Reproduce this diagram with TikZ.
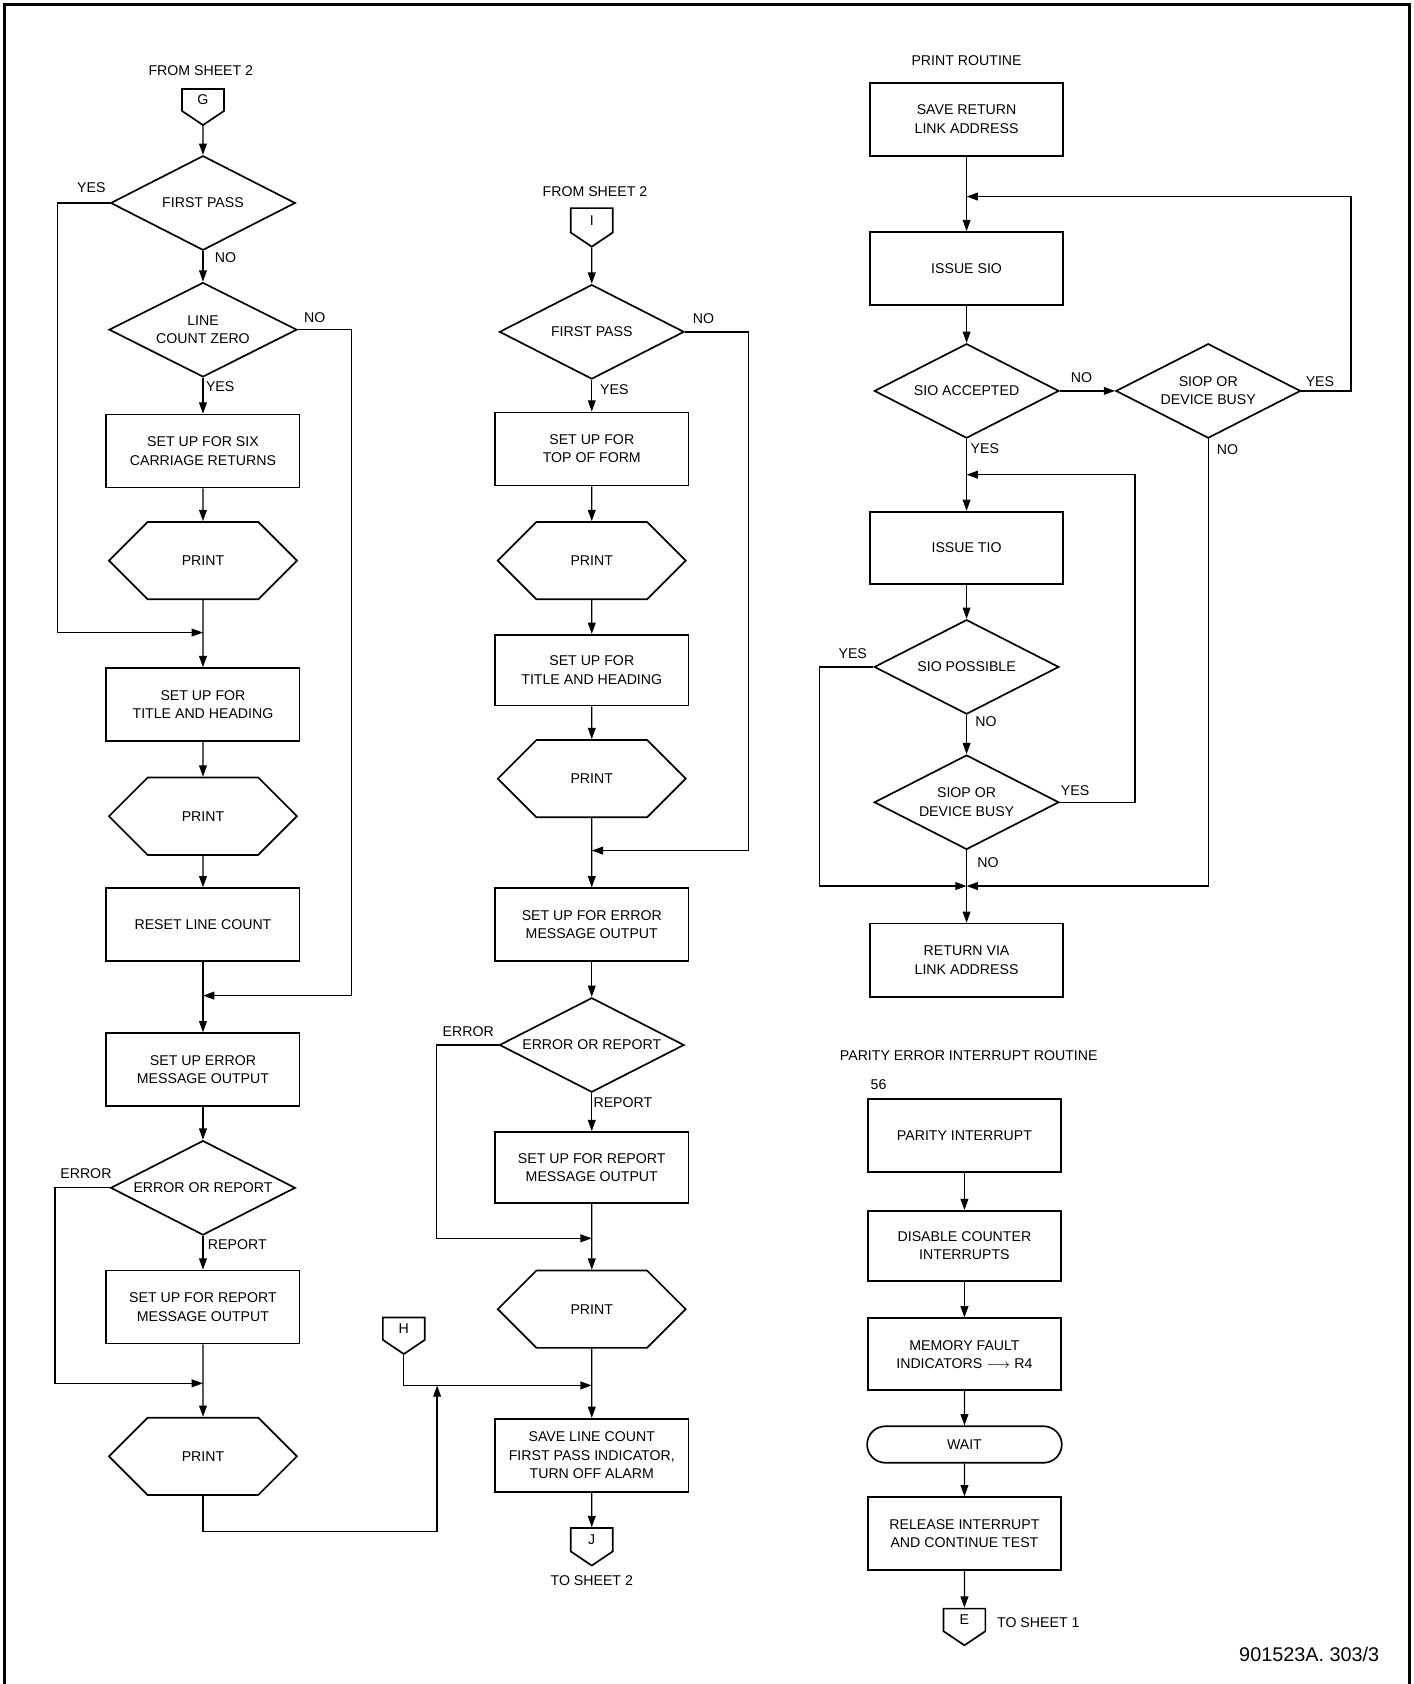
\documentclass[tikz,border=0pt]{standalone}
\usepackage{fontspec}
\setmainfont{Liberation Sans}
\usetikzlibrary{shapes.geometric,shapes.misc,shapes.symbols,arrows.meta}

\tikzset{
  procbox/.style={draw, line width=0.9pt, rectangle, minimum width=3.6cm, minimum height=1.36cm, align=center, inner sep=1pt},
  decision/.style={draw, line width=0.9pt, diamond, aspect=1.95, minimum width=3.44cm, minimum height=1.76cm, align=center, inner sep=0pt},
  printer/.style={draw, line width=0.9pt, chamfered rectangle, chamfered rectangle xsep=0.36cm, chamfered rectangle ysep=0.67cm, minimum width=3.5cm, minimum height=1.36cm, align=center},
  terminal/.style={draw, line width=0.9pt, rounded rectangle, minimum width=3.86cm, minimum height=0.68cm},
  offpage/.style={draw, line width=0.9pt, signal, signal to=south, signal pointer angle=112, minimum width=0.78cm, minimum height=0.48cm, inner sep=0pt},
  arr/.style={-{Triangle[length=2.1mm,width=1.45mm]}},
  branch/.style={inner sep=0pt},
}

\begin{document}
\begin{tikzpicture}[x=0.02cm, y=-0.02cm, line width=0.7pt,
    font=\fontsize{7.5}{9.7}\selectfont]
  \useasboundingbox (0,0) rectangle (1316,1568);
  \draw[line width=1.6pt] (4,1568) -- (4,4) -- (1312,4) -- (1312,1568);

  % left column
  \node (fs1) at (187,66) {FROM SHEET 2};
  \node[offpage, anchor=north] (g) at (189,82) {G};
  \node[decision] (fp1) at (189,189) {FIRST PASS};
  \node[decision, minimum width=3.5cm] (lcz) at (189,307) {LINE\\COUNT ZERO};
  \node[procbox] (six) at (189,420) {SET UP FOR SIX\\CARRIAGE RETURNS};
  \node[printer] (pr1) at (189,522) {PRINT};
  \node[procbox] (tt1) at (189,656) {SET UP FOR\\TITLE AND HEADING};
  \node[printer] (pr2) at (189,760) {PRINT};
  \node[procbox] (rlc) at (189,861) {RESET LINE COUNT};
  \node[procbox] (em1) at (189,996) {SET UP ERROR\\MESSAGE OUTPUT};
  \node[decision] (eor1) at (189,1106) {ERROR OR REPORT};
  \node[procbox] (rep1) at (189,1217) {SET UP FOR REPORT\\MESSAGE OUTPUT};
  \node[printer] (pr3) at (189,1356) {PRINT};
  \node[offpage, anchor=north] (h) at (376,1226) {H};

  \node[branch] (y1) at (85,175) {YES};
  \node[branch] (n1) at (210,240) {NO};
  \node[branch] (n2) at (293,296) {NO};
  \node[branch] (y2) at (205,360) {YES};
  \node[branch] (e1) at (80,1093) {ERROR};
  \node[branch] (r1) at (221,1159) {REPORT};

  \coordinate (j1) at (189,589);
  \coordinate (j2) at (189,927);
  \coordinate (j3) at (189,1288);
  \coordinate (jh) at (407,1290);

  \draw[arr] (g) -- (fp1);
  \draw[arr] (fp1) -- (lcz);
  \draw[arr] (lcz) -- (six);
  \draw[arr] (six) -- (pr1);
  \draw[arr] (pr1) -- (tt1);
  \draw[arr] (tt1) -- (pr2);
  \draw[arr] (pr2) -- (rlc);
  \draw[arr] (rlc) -- (em1);
  \draw[arr] (em1) -- (eor1);
  \draw[arr] (eor1) -- (rep1);
  \draw[arr] (rep1) -- (pr3);
  \draw[arr] (fp1.west) -- ++(-49,0) |- (j1);
  \draw[arr] (lcz.east) -- ++(50,0) |- (j2);
  \draw[arr] (eor1.west) -- ++(-51,0) |- (j3);
  \draw[arr] (pr3.south) -- ++(0,33) -| (jh);

  % middle column
  \node (fs2) at (554,178) {FROM SHEET 2};
  \node[offpage, anchor=north] (i) at (551,193) {I};
  \node[decision] (fp2) at (551,309) {FIRST PASS};
  \node[procbox] (tof) at (551,418) {SET UP FOR\\TOP OF FORM};
  \node[printer] (pr4) at (551,522) {PRINT};
  \node[procbox, minimum height=1.32cm] (tt2) at (551,624) {SET UP FOR\\TITLE AND HEADING};
  \node[printer] (pr5) at (551,725) {PRINT};
  \node[procbox] (em2) at (551,861) {SET UP FOR ERROR\\MESSAGE OUTPUT};
  \node[decision] (eor2) at (551,973) {ERROR OR REPORT};
  \node[procbox, minimum height=1.32cm] (rep2) at (551,1087) {SET UP FOR REPORT\\MESSAGE OUTPUT};
  \node[printer, minimum height=1.32cm] (pr6) at (551,1219) {PRINT};
  \node[procbox] (slc) at (551,1355) {SAVE LINE COUNT\\FIRST PASS INDICATOR,\\TURN OFF ALARM};
  \node[offpage, anchor=north] (j) at (551,1422) {J};
  \node (ts2) at (551,1472) {TO SHEET 2};

  \node[branch] (n3) at (655,297) {NO};
  \node[branch] (y3) at (572,363) {YES};
  \node[branch] (e2) at (436,961) {ERROR};
  \node[branch] (r2) at (580,1027) {REPORT};

  \coordinate (j4) at (551,792);
  \coordinate (j5) at (551,1153);
  \coordinate (j6) at (551,1290);

  \draw[arr] (i) -- (fp2);
  \draw[arr] (fp2) -- (tof);
  \draw[arr] (tof) -- (pr4);
  \draw[arr] (pr4) -- (tt2);
  \draw[arr] (tt2) -- (pr5);
  \draw[arr] (pr5) -- (em2);
  \draw[arr] (em2) -- (eor2);
  \draw[arr] (eor2) -- (rep2);
  \draw[arr] (rep2) -- (pr6);
  \draw[arr] (pr6) -- (slc);
  \draw[arr] (slc) -- (j);
  \draw[arr] (fp2.east) -- ++(59,0) |- (j4);
  \draw[arr] (eor2.west) -- ++(-58,0) |- (j5);
  \draw[arr] (h) |- (j6);

  % print routine
  \node (prt) at (900,56) {PRINT ROUTINE};
  \node[procbox] (srl) at (900,111) {SAVE RETURN\\LINK ADDRESS};
  \node[procbox] (sio) at (900,250) {ISSUE SIO};
  \node[decision] (acc) at (900,364) {SIO ACCEPTED};
  \node[decision] (busy1) at (1125,364) {SIOP OR\\DEVICE BUSY};
  \node[procbox, minimum height=1.34cm] (tio) at (900,510) {ISSUE TIO};
  \node[decision] (poss) at (900,621) {SIO POSSIBLE};
  \node[decision] (busy2) at (900,747) {SIOP OR\\DEVICE BUSY};
  \node[procbox] (ret) at (900,894) {RETURN VIA\\LINK ADDRESS};

  \node[branch] (n4) at (1007,352) {NO};
  \node[branch] (y4) at (1229,355) {YES};
  \node[branch] (n5) at (1143,419) {NO};
  \node[branch] (y5) at (917,418) {YES};
  \node[branch] (y6) at (794,609) {YES};
  \node[branch] (n6) at (918,672) {NO};
  \node[branch] (y7) at (1001,736) {YES};
  \node[branch] (n7) at (920,803) {NO};

  \coordinate (jt) at (900,183);
  \coordinate (jb) at (900,442);
  \coordinate (jr) at (900,825);

  \draw[arr] (srl) -- (sio);
  \draw[arr] (sio) -- (acc);
  \draw[arr] (acc) -- (busy1);
  \draw[arr] (acc) -- (tio);
  \draw[arr] (tio) -- (poss);
  \draw[arr] (poss) -- (busy2);
  \draw[arr] (busy2) -- (ret);
  \draw[arr] (busy1.east) -- ++(46,0) |- (jt);
  \draw[arr] (busy2.east) -- ++(70,0) |- (jb);
  \draw[arr] (poss.west) -- ++(-50,0) |- (jr);
  \draw[arr] (busy1.south) |- (jr);

  % parity error interrupt routine
  \node (pet) at (902,983) {PARITY ERROR INTERRUPT ROUTINE};
  \node (n56) at (818,1010) {56};
  \node[procbox] (par) at (898,1057) {PARITY INTERRUPT};
  \node[procbox, minimum height=1.3cm] (dis) at (898,1160) {DISABLE COUNTER\\INTERRUPTS};
  \node[procbox, minimum height=1.34cm] (mem) at (898,1261) {MEMORY FAULT\\INDICATORS $\longrightarrow$ R4};
  \node[terminal] (wait) at (898,1345) {WAIT};
  \node[procbox] (rel) at (898,1428) {RELEASE INTERRUPT\\AND CONTINUE TEST};
  \node[offpage, anchor=north] (e) at (898,1497) {E};
  \node[anchor=west] (ts1) at (922,1511) {TO SHEET 1};
  \node (fig) at (1219,1540) {\fontsize{10.5}{12}\selectfont 901523A. 303/3};

  \draw[arr] (par) -- (dis);
  \draw[arr] (dis) -- (mem);
  \draw[arr] (mem) -- (wait);
  \draw[arr] (wait) -- (rel);
  \draw[arr] (rel) -- (e);
\end{tikzpicture}
\end{document}
